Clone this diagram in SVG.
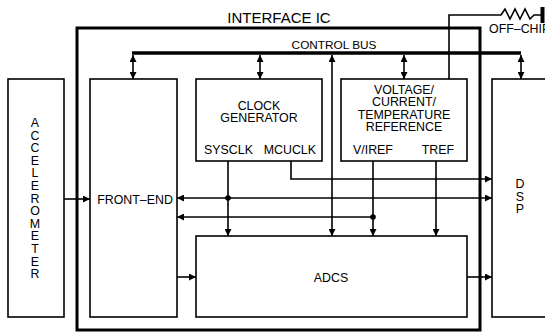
<svg xmlns="http://www.w3.org/2000/svg" width="545" height="332" viewBox="0 0 545 332">
<defs>
<marker id="ah" viewBox="0 0 10 10" refX="10" refY="5" markerWidth="7" markerHeight="7" markerUnits="userSpaceOnUse" orient="auto-start-reverse"><path d="M0,0 L10,5 L0,10 z" fill="#000"/></marker>
</defs>
<style>
.box{fill:#fff;stroke:#000;stroke-width:1.6}
.ic{fill:none;stroke:#000;stroke-width:3}
.w{fill:none;stroke:#000;stroke-width:1.6}
.bus{fill:none;stroke:#000;stroke-width:3.5}
text{font-family:"Liberation Sans",Arial,sans-serif;font-size:12.4px;fill:#000}
.c{text-anchor:middle}
</style>
<rect width="545" height="332" fill="#fff"/>
<rect class="ic" x="77" y="28" width="403" height="302"/>
<text class="c" x="279" y="23" style="font-size:15px">INTERFACE IC</text>

<g id="accelerometer">
<rect class="box" x="8" y="79" width="56" height="238"/>
<text class="c" x="35" y="127">A</text><text class="c" x="35" y="139.6">C</text><text class="c" x="35" y="152.2">C</text><text class="c" x="35" y="164.8">E</text><text class="c" x="35" y="177.4">L</text><text class="c" x="35" y="190">E</text><text class="c" x="35" y="202.6">R</text><text class="c" x="35" y="215.2">O</text><text class="c" x="35" y="227.8">M</text><text class="c" x="35" y="240.4">E</text><text class="c" x="35" y="253">T</text><text class="c" x="35" y="265.6">E</text><text class="c" x="35" y="278.2">R</text>
</g>
<g id="frontend">
<rect class="box" x="90" y="79" width="87" height="238"/>
<text class="c" x="135" y="204">FRONT–END</text>
</g>
<g id="clockgen">
<rect class="box" x="196" y="79" width="126" height="82"/>
<text class="c" x="259" y="110">CLOCK</text>
<text class="c" x="259" y="122">GENERATOR</text>
<text x="204" y="154">SYSCLK</text>
<text x="316" y="154" text-anchor="end">MCUCLK</text>
</g>
<g id="reference">
<rect class="box" x="341" y="79" width="126" height="82"/>
<text class="c" x="404" y="94">VOLTAGE/</text>
<text class="c" x="404" y="106.3">CURRENT/</text>
<text class="c" x="404" y="118.6">TEMPERATURE</text>
<text class="c" x="404" y="131">REFERENCE</text>
<text x="353" y="154">V/IREF</text>
<text x="454" y="154" text-anchor="end">TREF</text>
</g>
<g id="adcs">
<rect class="box" x="196" y="236" width="271" height="81"/>
<text class="c" x="331" y="282">ADCS</text>
</g>
<g id="dsp">
<rect class="box" x="492" y="79" width="60" height="238"/>
<text class="c" x="520" y="188">D</text><text class="c" x="520" y="200.5">S</text><text class="c" x="520" y="213">P</text>
</g>
<g id="offchip">
<text x="489" y="33">OFF–CHIP</text>
<polyline class="w" points="449,79 449,15 501,15 505,9 510,19 515,9 520,19 525,9 530,19 534,15 541,15"/>
<line x1="542.5" y1="7" x2="542.5" y2="23" stroke="#000" stroke-width="4"/>
</g>

<g id="connectors">
<line class="bus" x1="132" y1="53" x2="521" y2="53"/>
<text class="c" x="334" y="49" style="font-size:11.8px">CONTROL BUS</text>
<line class="w" x1="133" y1="55" x2="133" y2="79" marker-start="url(#ah)" marker-end="url(#ah)"/>
<line class="w" x1="260" y1="55" x2="260" y2="79" marker-start="url(#ah)" marker-end="url(#ah)"/>
<line class="w" x1="404" y1="55" x2="404" y2="79" marker-start="url(#ah)" marker-end="url(#ah)"/>
<line class="w" x1="521" y1="55" x2="521" y2="79" marker-start="url(#ah)" marker-end="url(#ah)"/>
<line class="w" x1="332" y1="55" x2="332" y2="236" marker-start="url(#ah)" marker-end="url(#ah)"/>

<line class="w" x1="64" y1="199" x2="90" y2="199" marker-end="url(#ah)"/>
<line class="w" x1="228" y1="161" x2="228" y2="236" marker-end="url(#ah)"/>
<line class="w" x1="492" y1="198" x2="177" y2="198" marker-start="url(#ah)" marker-end="url(#ah)"/>
<circle cx="228" cy="198" r="2.8" fill="#000"/>
<polyline class="w" points="291,161 291,179 492,179" marker-end="url(#ah)"/>
<line class="w" x1="373" y1="161" x2="373" y2="236" marker-end="url(#ah)"/>
<line class="w" x1="373" y1="217" x2="177" y2="217" marker-end="url(#ah)"/>
<circle cx="373" cy="217" r="2.8" fill="#000"/>
<line class="w" x1="436" y1="161" x2="436" y2="236" marker-end="url(#ah)"/>
<line class="w" x1="177" y1="277" x2="196" y2="277" marker-end="url(#ah)"/>
<line class="w" x1="467" y1="277" x2="492" y2="277" marker-end="url(#ah)"/>
</g>
</svg>
